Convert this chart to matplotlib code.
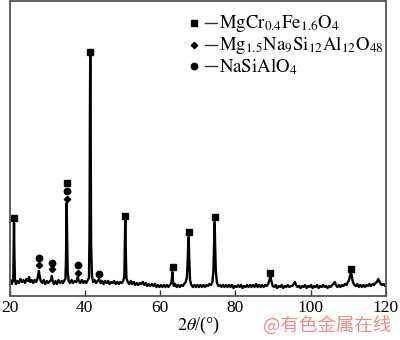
import matplotlib
matplotlib.use("Agg")
import matplotlib.pyplot as plt

plt.rcParams["font.family"] = ["Liberation Serif", "DejaVu Serif"]
plt.rcParams["mathtext.fontset"] = "stix"

# XRD trace (2theta in degrees, intensity in arbitrary units)
two_theta = [
    20.0, 20.3, 20.6, 20.85, 21.0, 21.1, 21.2, 21.3, 21.45, 21.7,
    22.1, 22.5, 22.9, 23.3, 23.7, 24.1, 24.5, 24.9, 25.2, 25.5, 25.9, 26.3, 26.7, 27.1,
    27.4, 27.6, 27.8, 28.0, 28.3, 28.7, 29.1, 29.5, 29.9, 30.3, 30.7, 31.05, 31.25, 31.45,
    31.8, 32.2, 32.6, 33.0, 33.4, 33.8, 34.2, 34.6, 34.85, 35.0, 35.1, 35.17, 35.3, 35.45,
    35.7, 36.1, 36.5, 36.9, 37.3, 37.7, 37.95, 38.15, 38.4, 38.8, 39.2, 39.6, 40.0, 40.4,
    40.8, 41.1, 41.25, 41.38, 41.45, 41.53, 41.68, 41.9, 42.2,
    42.6, 43.0, 43.4, 43.8, 44.2, 44.6, 45.0, 45.4, 45.8, 46.2, 46.6, 47.0, 47.4, 47.8,
    48.2, 48.6, 49.0, 49.4, 49.8, 50.2, 50.5, 50.65, 50.75, 50.85, 51.05, 51.4, 51.8,
    52.2, 52.6, 53.0, 53.4, 53.8, 54.2, 54.6, 55.0, 55.4, 55.8, 56.2, 56.6, 57.0, 57.4,
    57.8, 58.2, 58.6, 59.0, 59.4, 59.8, 60.2, 60.6, 61.0, 61.4, 61.8, 62.2, 62.6, 62.95,
    63.15, 63.27, 63.4, 63.65, 64.0, 64.4, 64.8, 65.2, 65.6, 66.0, 66.4, 66.8, 67.1, 67.3,
    67.5, 67.6, 67.72, 67.95, 68.3, 68.7, 69.1, 69.5, 69.9, 70.3, 70.7, 71.1, 71.5, 71.9,
    72.3, 72.7, 73.1, 73.5, 73.9, 74.15, 74.35, 74.5, 74.62, 74.8, 75.1, 75.5, 75.9, 76.3,
    76.7, 77.1, 77.5, 77.9, 78.3, 78.7, 79.1, 79.5, 79.9, 80.3, 80.7, 81.1, 81.5, 81.9,
    82.3, 82.7, 83.1, 83.5, 83.9, 84.3, 84.7, 85.1, 85.5, 85.9, 86.3, 86.7, 87.1, 87.5,
    87.9, 88.3, 88.7, 89.05, 89.3, 89.55, 89.9, 90.3, 90.7, 91.1, 91.5, 91.9, 92.3, 92.7,
    93.1, 93.5, 93.9, 94.3, 94.7, 95.1, 95.5, 95.8, 96.1, 96.5, 96.9, 97.3, 97.7, 98.1,
    98.5, 98.9, 99.3, 99.7, 100.1, 100.5, 100.9, 101.3, 101.7, 102.1, 102.5, 102.9, 103.3,
    103.7, 104.1, 104.5, 104.9, 105.3, 105.7, 106.1, 106.4, 106.7, 107.1, 107.5, 107.9,
    108.3, 108.7, 109.1, 109.5, 109.9, 110.2, 110.5, 110.7, 110.9, 111.2, 111.6, 112.0,
    112.4, 112.8, 113.2, 113.6, 114.0, 114.4, 114.8, 115.2, 115.6, 116.0, 116.4, 116.8,
    117.2, 117.6, 117.95, 118.2, 118.6, 119.0, 119.4, 119.8, 120.0,
]
intensity = [
    13, 16, 12, 15, 16, 45, 73, 42, 16, 12,
    15, 13, 17, 14, 16, 13, 17, 15, 19, 14, 16, 13, 16, 14,
    17, 21, 25, 20, 15, 13, 16, 12, 15, 13, 15, 16, 20, 15,
    12, 15, 12, 16, 13, 15, 13, 16, 17, 35, 75, 93, 60, 25,
    15, 13, 16, 13, 15, 14, 16, 19, 15, 13, 16, 13, 15, 13,
    16, 18, 60, 200, 240, 190, 50, 20, 14,
    16, 13, 15, 17, 13, 15, 12, 15, 13, 15, 12, 14, 13, 15,
    12, 14, 12, 14, 13, 15, 20, 55, 76, 50, 18, 14, 12,
    15, 12, 14, 11, 13, 11, 13, 12, 14, 11, 13, 10, 12, 10,
    12, 10, 12, 9, 11, 9, 11, 9, 11, 9, 11, 9, 11, 13,
    18, 24, 16, 10, 12, 9, 11, 9, 11, 10, 12, 14, 18, 32,
    55, 59, 40, 16, 11, 9, 11, 9, 11, 9, 11, 9, 11, 9,
    11, 10, 12, 11, 14, 25, 55, 74, 50, 25, 13, 10, 11, 9,
    11, 9, 11, 9, 11, 9, 11, 8, 10, 9, 11, 9, 11, 8,
    10, 9, 11, 9, 11, 9, 11, 9, 12, 9, 11, 9, 11, 9,
    11, 10, 12, 16, 19, 15, 10, 9, 11, 8, 10, 9, 11, 8,
    10, 9, 11, 9, 10, 10, 12, 14, 11, 9, 10, 8, 10, 9,
    11, 8, 10, 9, 11, 8, 10, 9, 11, 8, 10, 9, 11,
    9, 10, 8, 10, 9, 11, 12, 14, 11, 9, 11, 9,
    11, 10, 12, 11, 14, 16, 21, 24, 20, 14, 11, 10,
    12, 9, 11, 9, 11, 9, 11, 10, 12, 10, 12, 11,
    13, 14, 17, 15, 12, 11, 12, 10, 11,
]

# phase markers
spinel_x = [21.2, 35.15, 41.45, 50.75, 63.3, 67.6, 74.5, 89.3, 110.75]
spinel_y = [78, 113, 244, 80, 29, 64, 79, 23, 27]
nepheline_x = [27.8, 31.25, 35.15, 38.15, 43.75]
nepheline_y = [38, 33, 105, 31, 22]
mgnasi_x = [27.8, 31.25, 35.15, 38.15]
mgnasi_y = [31, 27, 97, 23]

legend_labels = [
    r"$\mathrm{MgCr_{0.4}Fe_{1.6}O_4}$",
    r"$\mathrm{Mg_{1.5}Na_9Si_{12}Al_{12}O_{48}}$",
    r"$\mathrm{NaSiAlO_4}$",
]
legend_markers = ["s", "D", "o"]
legend_msize = [4.5, 3.2, 4.6]

fig = plt.figure(figsize=(4.0, 3.4), dpi=100)
ax = fig.add_axes([9.5 / 400, 44 / 340, 376.5 / 400, 295 / 340])

ax.plot(two_theta, intensity, color="black", lw=1.7)
ax.plot(spinel_x, spinel_y, "s", color="black", ms=4.5, ls="none")
ax.plot(nepheline_x, nepheline_y, "o", color="black", ms=4.6, ls="none")
ax.plot(mgnasi_x, mgnasi_y, "D", color="black", ms=3.2, ls="none")

ax.set_xlim(20, 120)
ax.set_ylim(0, 295)
ax.set_xticks([20, 40, 60, 80, 100, 120])
ax.set_yticks([])
ax.tick_params(axis="x", direction="in", length=4, width=1, pad=3,
               labelsize=12.5, colors="#333333", labelcolor="black")
for s in ax.spines.values():
    s.set_color("#555555")
    s.set_linewidth(1.3)

# legend drawn by hand
leg_y = [0.925, 0.850, 0.778]
for lab, mk, msz, yy in zip(legend_labels, legend_markers, legend_msize, leg_y):
    ax.plot([0.49], [yy], mk, color="black", ms=msz, transform=ax.transAxes)
    ax.plot([0.519, 0.551], [yy, yy], color="#333333", lw=1.0, transform=ax.transAxes)
    ax.text(0.556, yy, lab, transform=ax.transAxes, fontsize=13.5,
            va="center", ha="left")

fig.text(0.4975, 0.044, r"$2\theta$/(°)", fontsize=13, ha="center", va="center")
fig.text(0.657, 0.041, "@有色金属在线", fontsize=13.3, color="#f08a8a",
         ha="left", va="center", family=["Noto Sans CJK SC", "DejaVu Sans"])

fig.savefig("out.png", dpi=100)
